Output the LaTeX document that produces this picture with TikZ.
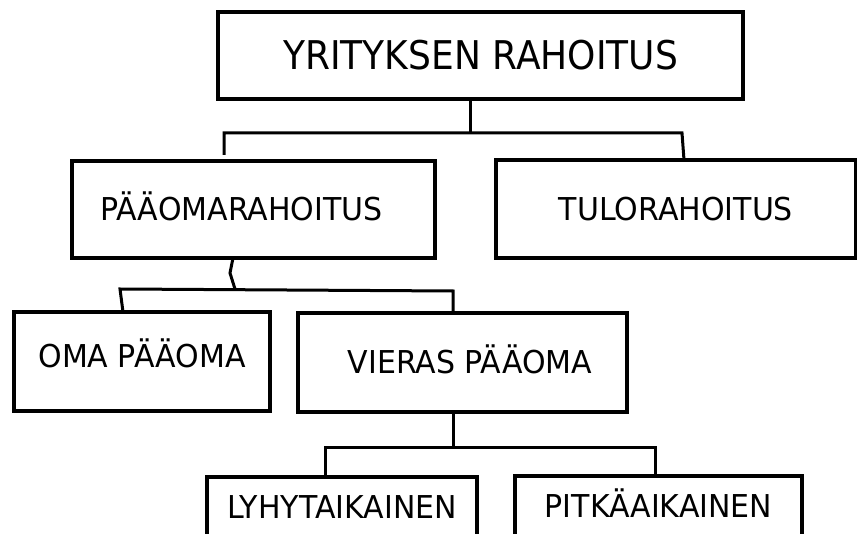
\documentclass[tikz,border=0pt]{standalone}
\usepackage{graphicx}
\usepackage{fontspec}
\setmainfont{DejaVu Sans}
% slightly taller lettering
\newcommand\tallcaps[2]{\scalebox{1}[#1]{#2}}
\begin{document}
\begin{tikzpicture}[x=1pt,y=-1pt,
  box/.style={draw=black, line width=3.2pt, rectangle, inner sep=0pt, outer sep=0pt,
              text height=23pt, text depth=0pt,
              font=\fontsize{30}{36}\selectfont},
  bigbox/.style={box, text height=28.8pt, font=\fontsize{36}{43}\selectfont},
  link/.style={draw=black, line width=3pt, line join=miter}]
\useasboundingbox (0,0) rectangle (857,534);
\clip (0,0) rectangle (857,534);

% boxes
\node[bigbox, minimum width=525pt, minimum height=87pt] (top) at (480.5,55.5) {\tallcaps{1.1}{YRITYKSEN RAHOITUS}};
\node[box, minimum width=363pt, minimum height=97pt] (cap) at (253.5,209.5) {\hspace*{-24pt}\tallcaps{1.05}{PÄÄOMARAHOITUS}};
\node[box, minimum width=360pt, minimum height=98pt] (tulo) at (676,209) {\tallcaps{1.05}{TULORAHOITUS}};
\node[box, text height=13pt, minimum width=256pt, minimum height=99pt] (oma) at (142,361.5) {\tallcaps{1.05}{OMA PÄÄOMA}};
\node[box, minimum width=329pt, minimum height=99pt] (vieras) at (462.5,362.5) {\hspace*{15pt}\tallcaps{1.05}{VIERAS PÄÄOMA}};
\node[box, minimum width=270pt, minimum height=59pt] (lyhyt) at (342,506.5) {\tallcaps{1.05}{LYHYTAIKAINEN}};
\node[box, minimum width=287pt, minimum height=60pt] (pitka) at (658.5,506) {\tallcaps{1.05}{PITKÄAIKAINEN}};

% junction points
\coordinate (h1) at (470,133);
\coordinate (h1l) at (224,133);
\coordinate (h1r) at (682,133);
\coordinate (d1) at (224,155);
\coordinate (w1) at (230,273);
\coordinate (h2) at (235,289);
\coordinate (h2l) at (120,289);
\coordinate (h2r) at (453,291);
\coordinate (h3) at (453,448);
\coordinate (h3l) at (325,448);
\coordinate (h3r) at (655,448);

% connectors
\draw[link] (top.south -| h1) -- (h1);
\draw[link] (d1) -- (h1l) -- (h1r) -- ([xshift=8pt]tulo.north);
\draw[link] ([xshift=-20.5pt]cap.south) -- (w1) -- (h2);
\draw[link] ([xshift=-19pt]oma.north) -- (h2l) -- (h2r) -- ([xshift=-9.5pt]vieras.north);
\draw[link] ([xshift=-9.5pt]vieras.south) -- (h3);
\draw[link] ([xshift=-17pt]lyhyt.north) -- (h3l) -- (h3r) -- ([xshift=-3.5pt]pitka.north);
\end{tikzpicture}
\end{document}
